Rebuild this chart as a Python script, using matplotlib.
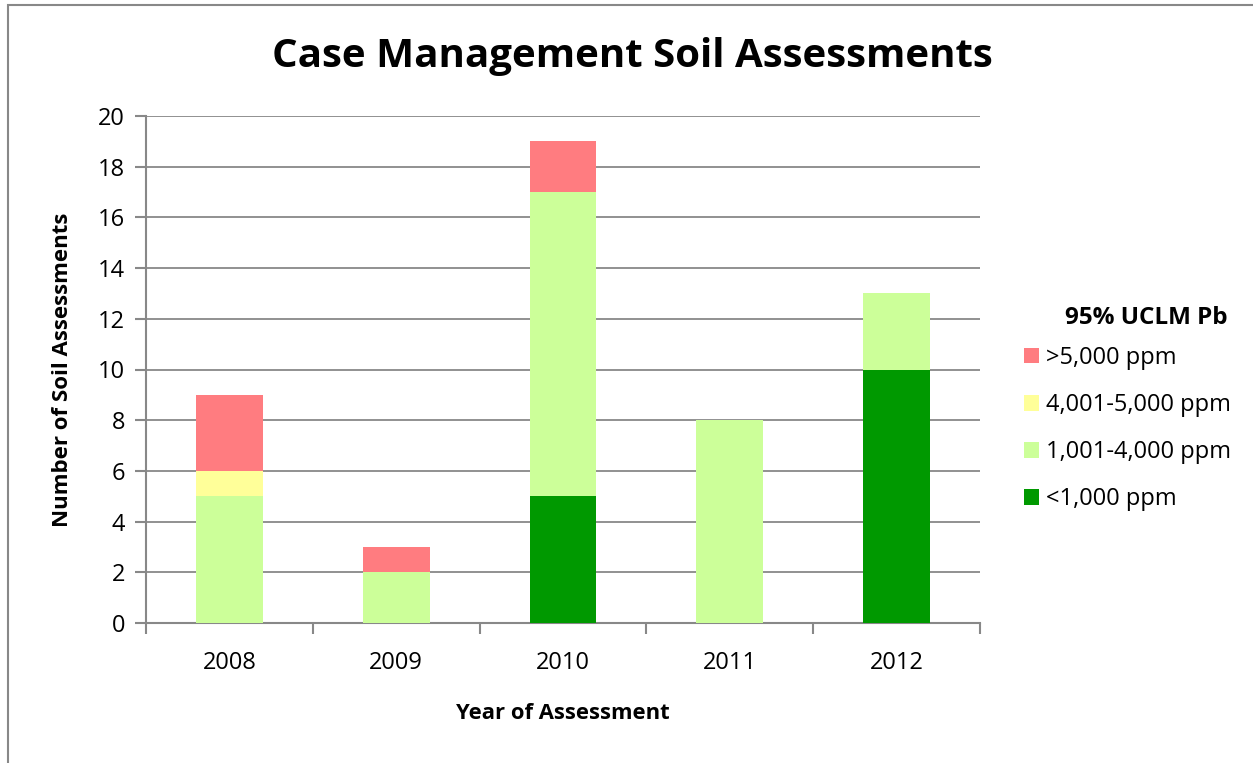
import numpy as np
import matplotlib
matplotlib.use('Agg')
import matplotlib.pyplot as plt
from matplotlib.patches import Rectangle

plt.rcParams['font.family'] = ['Open Sans', 'DejaVu Sans']

years = ['2008', '2009', '2010', '2011', '2012']
below_1000 = [0, 0, 5, 0, 10]
r1001_4000 = [5, 2, 12, 8, 3]
r4001_5000 = [1, 0, 0, 0, 0]
above_5000 = [3, 1, 2, 0, 0]

labels = ['<1,000 ppm', '1,001-4,000 ppm', '4,001-5,000 ppm', '>5,000 ppm']
colors = ['#009900', '#CCFF99', '#FFFF99', '#FF7C80']

fig = plt.figure(figsize=(12.53, 7.63), dpi=100)
ax = fig.add_axes([146/1253, 1-623/763, (980-146)/1253, (623-116)/763])

# outer chart border (right/bottom fall outside the picture)
fig.patches.append(Rectangle((8/1253, -0.1), 1.2, 1-5/763+0.1, transform=fig.transFigure,
                             fill=False, edgecolor='#888888', lw=1.5))

x = np.arange(len(years))
bottom = np.zeros(len(years))
handles = []
for vals, lab, c in zip([below_1000, r1001_4000, r4001_5000, above_5000], labels, colors):
    b = ax.bar(x, vals, 0.4, bottom=bottom, color=c, label=lab, zorder=3)
    handles.append(b)
    bottom += np.array(vals)

ax.set_xlim(-0.5, len(years) - 0.5)
ax.set_ylim(0, 20)
ax.set_yticks(range(0, 21, 2))
ax.set_xticks(x)
ax.set_xticklabels(years)
ax.set_xticks(np.arange(-0.5, len(years), 1), minor=True)
ax.tick_params(axis='x', which='major', length=0, pad=20, labelsize=17)
ax.tick_params(axis='x', which='minor', length=8, color='#888888', width=1.5)
ax.tick_params(axis='y', length=8, color='#888888', width=1.5, labelsize=17, pad=7)
ax.grid(axis='y', color='#888888', lw=1.3, zorder=0)
for s in ['top', 'right']:
    ax.spines[s].set_visible(False)
for s in ['left', 'bottom']:
    ax.spines[s].set_color('#888888')
    ax.spines[s].set_linewidth(1.5)

fig.text(632/1253, 1-57/763, 'Case Management Soil Assessments', ha='center', va='center',
         fontsize=29, fontweight='bold')
ax.set_xlabel('Year of Assessment', fontsize=15.8, fontweight='bold', labelpad=20)
ax.set_ylabel('Number of Soil Assessments', fontsize=16, fontweight='bold', labelpad=18)

# legend title drawn separately so its gap to the entries can be set
fig.text(1228/1253, 1-318/763, '95% UCLM Pb', ha='right', va='center',
         fontsize=17.5, fontweight='bold')
leg = fig.legend(handles[::-1], labels[::-1], loc='upper left',
                 bbox_to_anchor=(1012/1253, 1-334/763), frameon=False, fontsize=17,
                 handlelength=0.65, handleheight=0.65, handletextpad=0.3, labelspacing=0.98,
                 borderpad=0)

fig.savefig('out.png', dpi=100)
